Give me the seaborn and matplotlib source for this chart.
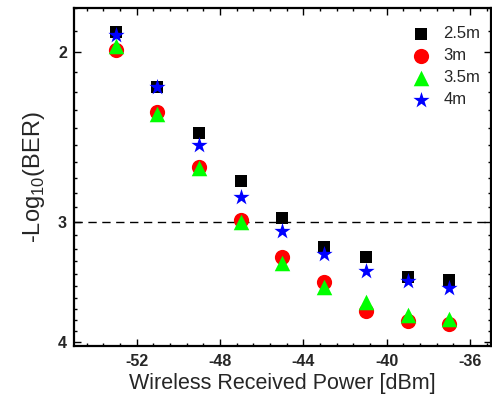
import matplotlib
matplotlib.use("Agg")
import matplotlib.pyplot as plt
import seaborn as sns
import numpy as np
import pandas as pd
from matplotlib.ticker import FixedLocator, FixedFormatter, AutoMinorLocator

# received power sweep [dBm]
power = [-53, -51, -49, -47, -45, -43, -41, -39, -37]

# -log10(BER) per link distance
ber_2p5m = [1.906, 2.175, 2.425, 2.72, 2.978, 3.19, 3.269, 3.425, 3.449]
ber_3m = [1.989, 2.31, 2.635, 2.99, 3.265, 3.467, 3.714, 3.809, 3.832]
ber_3p5m = [1.973, 2.317, 2.64, 3.0, 3.31, 3.512, 3.64, 3.755, 3.787]
ber_4m = [1.919, 2.175, 2.498, 2.83, 3.068, 3.244, 3.378, 3.459, 3.517]

labels = ["2.5m", "3m", "3.5m", "4m"]
colors = ["#000000", "#ff0000", "#00ff00", "#0000ff"]
markers = ["s", "o", "^", "*"]
sizes = [85, 120, 125, 150]

y_ticks = [2, 3, 4]
x_ticks = [-52, -48, -44, -40, -36]

sns.set_theme(style="ticks")
plt.rcParams["font.family"] = ["Liberation Sans", "DejaVu Sans"]
plt.rcParams["mathtext.fontset"] = "custom"
plt.rcParams["mathtext.rm"] = "Liberation Sans"

df = pd.DataFrame({
    "power": power * 4,
    "ber": ber_2p5m + ber_3m + ber_3p5m + ber_4m,
    "dist": [lab for lab in labels for _ in power],
})

fig = plt.figure(figsize=(4.92, 4.01), dpi=100)
ax = fig.add_axes([74 / 492, 1 - 346 / 401, 417 / 492, 338 / 401])

# threshold line
ax.axhline(3, color="black", lw=1.0, ls=(0, (6, 4)), zorder=1)

for lab, col, mk, s in zip(labels, colors, markers, sizes):
    sub = df[df["dist"] == lab]
    sns.scatterplot(data=sub, x="power", y="ber", color=col, marker=mk, s=s,
                    linewidth=0, label=lab, ax=ax, zorder=3)

ax.set_yscale("log")
ax.set_ylim(4.04, 1.8)
ax.yaxis.set_major_locator(FixedLocator(y_ticks))
ax.yaxis.set_major_formatter(FixedFormatter([str(t) for t in y_ticks]))
ax.yaxis.set_minor_locator(FixedLocator(np.round(np.arange(1.8, 4.05, 0.1), 1)))
ax.yaxis.set_minor_formatter(FixedFormatter([]))

ax.set_xlim(-55, -35)
ax.set_xticks(x_ticks)
ax.set_xticklabels([str(t) for t in x_ticks])
ax.xaxis.set_minor_locator(AutoMinorLocator(5))

for sp in ax.spines.values():
    sp.set_linewidth(1.6)
    sp.set_color("black")

ax.tick_params(which="both", direction="in", top=True, right=True, width=1.0, color="black")
ax.tick_params(which="major", length=5, labelsize=11.5)
ax.tick_params(axis="x", which="major", pad=6)
ax.tick_params(axis="y", which="major", pad=5)
ax.tick_params(which="minor", length=2.5)
for t in ax.get_xticklabels() + ax.get_yticklabels():
    t.set_fontweight("bold")

ax.set_xlabel("Wireless Received Power [dBm]", fontsize=15.5, labelpad=3)
ax.set_ylabel(r"-Log$_{\mathregular{10}}$(BER)", fontsize=17, labelpad=8)

ax.legend(loc="upper right", bbox_to_anchor=(0.99, 0.965), frameon=False,
          fontsize=12, labelspacing=0.42, handlelength=1.5, handletextpad=0.6,
          borderaxespad=0)

fig.savefig("out.png", dpi=100)
